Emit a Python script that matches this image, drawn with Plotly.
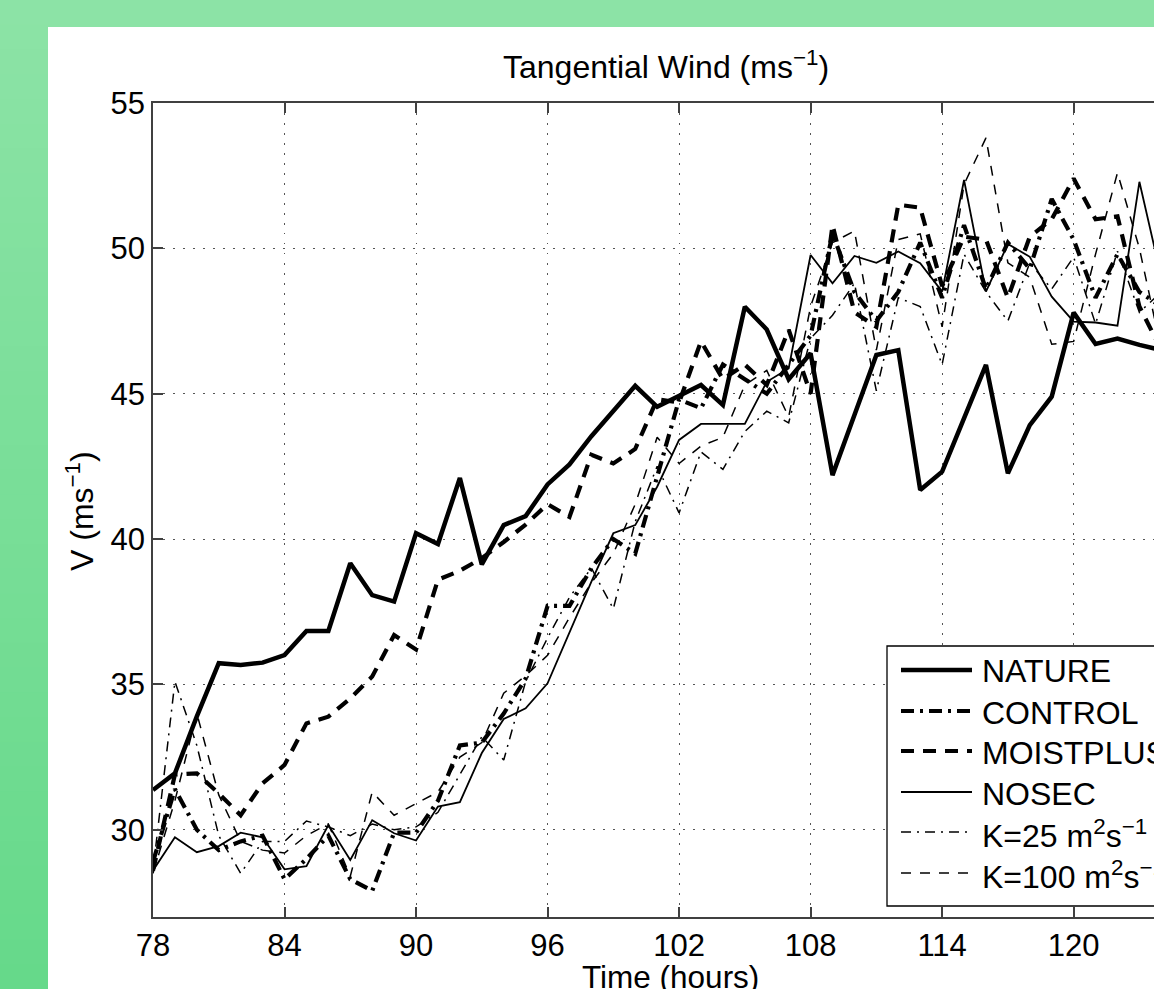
import plotly.graph_objects as go

HOURS = list(range(78, 125))

NATURE = [31.37, 31.94, 33.9, 35.73, 35.67, 35.75, 36.01, 36.84, 36.84, 39.17,
          38.07, 37.85, 40.2, 39.83, 42.1, 39.13, 40.48, 40.79, 41.88, 42.57,
          43.54, 44.38, 45.27, 44.55, 44.92, 45.3, 44.61, 47.99, 47.21, 45.5,
          46.39, 42.2, 44.27, 46.33, 46.5, 41.69, 42.32, 44.15, 45.99, 42.26,
          43.92, 44.9, 47.79, 46.71, 46.9, 46.68, 46.5]

CONTROL = [28.9, 31.4, 30.0, 29.3, 29.6, 29.8, 28.3, 29.0, 29.8, 28.3,
           27.9, 29.9, 29.9, 31.0, 32.9, 33.0, 34.0, 35.2, 37.7, 37.7,
           39.0, 40.0, 39.5, 42.1, 44.8, 44.5, 46.0, 45.5, 45.0, 46.0,
           47.0, 50.5, 48.5, 47.5, 48.5, 50.2, 48.3, 50.8, 48.6, 50.2,
           49.3, 51.7, 50.3, 48.3, 49.8, 48.5, 48.0]

MOISTPLUS = [28.6, 31.9, 31.94, 31.25, 30.5, 31.6, 32.23, 33.66, 33.89, 34.52,
             35.27, 36.7, 36.2, 38.6, 38.91, 39.34, 39.9, 40.5, 41.2, 40.76,
             42.9, 42.6, 43.1, 44.81, 44.7, 46.8, 45.5, 46.0, 45.3, 47.2,
             45.0, 50.8, 47.8, 47.3, 51.5, 51.4, 48.7, 50.4, 50.3, 48.3,
             50.4, 51.0, 52.4, 51.0, 51.1, 48.0, 46.5]

NOSEC = [28.6, 29.74, 29.23, 29.44, 29.9, 29.74, 28.64, 28.75, 30.16, 28.96,
         30.33, 29.88, 29.63, 30.8, 30.95, 32.64, 33.81, 34.18, 35.04, 36.82,
         38.54, 40.2, 40.48, 41.8, 43.41, 43.96, 43.96, 43.96, 45.41, 45.87,
         49.77, 48.8, 49.74, 49.5, 49.89, 49.49, 48.51, 52.35, 48.51, 50.15,
         49.71, 48.34, 47.48, 47.45, 47.34, 52.29, 49.0]

K25 = [28.6, 35.1, 32.9, 29.8, 28.5, 29.6, 29.6, 30.3, 30.1, 29.8,
       30.2, 30.0, 30.1, 30.6, 31.9, 33.2, 32.4, 35.1, 36.6, 38.0,
       39.0, 37.6, 40.6, 42.5, 40.9, 43.0, 42.4, 43.7, 44.4, 44.0,
       46.9, 47.7, 48.8, 45.1, 48.3, 48.0, 46.0, 49.8, 48.5, 47.5,
       49.5, 48.6, 49.7, 47.4, 49.9, 47.8, 48.5]

K100 = [28.5, 31.0, 34.0, 31.2, 29.6, 29.3, 29.2, 29.8, 30.2, 28.4,
        31.3, 30.5, 30.9, 31.3, 32.5, 33.0, 34.7, 35.3, 36.0, 37.3,
        38.5, 39.5, 41.2, 43.5, 42.6, 43.2, 43.5, 45.3, 45.8, 44.2,
        48.0, 50.2, 50.6, 46.5, 50.3, 50.5, 47.3, 52.2, 53.8, 49.5,
        49.0, 46.7, 46.8, 49.8, 52.6, 50.0, 46.5]

SERIES_NAMES = ["NATURE", "CONTROL", "MOISTPLUS", "NOSEC",
                "K=25 m<sup>2</sup>s<sup>\u22121</sup>",
                "K=100 m<sup>2</sup>s<sup>\u22121</sup>"]
SERIES_DATA = [NATURE, CONTROL, MOISTPLUS, NOSEC, K25, K100]

X_TICKS = [78, 84, 90, 96, 102, 108, 114, 120]
Y_TICKS = [30, 35, 40, 45, 50, 55]

# styles
STYLES = [
    dict(width=4.5, dash="solid"),
    dict(width=4.2, dash="13px,6px,3px,6px"),
    dict(width=4.2, dash="13px,9px"),
    dict(width=1.8, dash="solid"),
    dict(width=1.5, dash="10px,6px,2px,6px"),
    dict(width=1.5, dash="10px,9px"),
]

W, H = 1154, 989
PL, PT, PW, PH = 153, 103, 1001, 814
PX_PER_H = 21.92
FONT = "Liberation Sans, Arial, Helvetica, sans-serif"
FS_TICK = 31
FS_TEXT = 32


def px(x):
    return (x - PL) / PW


def py(y):
    return (PT + PH - y) / PH


fig = go.Figure()
for name, data, st in zip(SERIES_NAMES, SERIES_DATA, STYLES):
    fig.add_trace(go.Scatter(x=HOURS, y=data, mode="lines", name=name,
                             line=dict(color="black", width=st["width"], dash=st["dash"]),
                             showlegend=False, hoverinfo="skip"))

shapes = []
# green gradient background strips
top_c = (140, 227, 166)
bot_c = (102, 217, 138)
N = 40
for i in range(N):
    y0 = i * H / N
    y1 = (i + 1) * H / N + 1
    t = (i + 0.5) / N
    c = tuple(int(round(top_c[k] + (bot_c[k] - top_c[k]) * t)) for k in range(3))
    shapes.append(dict(type="rect", xref="paper", yref="paper",
                       x0=px(0), x1=px(48), y0=py(y1), y1=py(y0),
                       fillcolor="rgb(%d,%d,%d)" % c, line=dict(width=0), layer="below"))
shapes.append(dict(type="rect", xref="paper", yref="paper",
                   x0=px(48), x1=px(W + 5), y0=py(0), y1=py(27),
                   fillcolor="rgb(%d,%d,%d)" % top_c, line=dict(width=0), layer="below"))
shapes.append(dict(type="rect", xref="paper", yref="paper",
                   x0=px(48), x1=px(W + 5), y0=py(H + 5), y1=py(27),
                   fillcolor="white", line=dict(width=0), layer="below"))

# legend box
shapes.append(dict(type="rect", xref="paper", yref="paper",
                   x0=px(887), x1=px(W + 20), y0=py(906), y1=py(646),
                   fillcolor="white", line=dict(color="black", width=1.3), layer="above"))
row_line_y = [670, 711, 751, 792, 832, 873]
row_text_y = [671, 713, 753, 794, 834, 875]
annotations = []
for name, st, ly, ty in zip(SERIES_NAMES, STYLES, row_line_y, row_text_y):
    shapes.append(dict(type="line", xref="paper", yref="paper",
                       x0=px(901), x1=px(972), y0=py(ly), y1=py(ly),
                       line=dict(color="black", width=st["width"], dash=st["dash"]),
                       layer="above"))
    annotations.append(dict(text=name, xref="paper", yref="paper",
                            x=px(980), y=py(ty), xanchor="left", yanchor="middle",
                            showarrow=False, font=dict(family=FONT, size=FS_TEXT, color="black")))

annotations.append(dict(text="Tangential Wind (ms<sup>\u22121</sup>)", xref="paper", yref="paper",
                        x=px(666), y=py(65), xanchor="center", yanchor="middle",
                        showarrow=False, font=dict(family=FONT, size=FS_TEXT, color="black")))
annotations.append(dict(text="Time (hours)", xref="paper", yref="paper",
                        x=px(670), y=py(977), xanchor="center", yanchor="middle",
                        showarrow=False, font=dict(family=FONT, size=FS_TEXT - 0.5, color="black")))
annotations.append(dict(text="V (ms<sup>\u22121</sup>)", xref="paper", yref="paper",
                        x=px(80), y=py(511), xanchor="center", yanchor="middle",
                        textangle=-90, showarrow=False,
                        font=dict(family=FONT, size=FS_TEXT, color="black")))

axis_common = dict(showline=True, linecolor="#404040", linewidth=1.6,
                   ticks="inside", ticklen=10, tickwidth=1.5, tickcolor="#404040",
                   showgrid=True, gridcolor="#555555", gridwidth=1.2, griddash="1.5px,8.5px",
                   zeroline=False, tickfont=dict(family=FONT, size=FS_TICK, color="black"))

fig.update_layout(
    width=W, height=H,
    margin=dict(l=PL, r=W - PL - PW, t=PT, b=H - PT - PH, autoexpand=False),
    paper_bgcolor="white", plot_bgcolor="white",
    xaxis=dict(range=[78, 78 + PW / PX_PER_H], tickvals=X_TICKS, mirror="ticks",
               ticklabelstandoff=0, **axis_common),
    yaxis=dict(range=[27, 55], tickvals=Y_TICKS, mirror=False,
               ticklabelstandoff=0, **axis_common),
    shapes=shapes, annotations=annotations,
    showlegend=False,
)

fig.write_html("out.html", config={"displayModeBar": False},
               post_script="document.body.style.margin='0px';document.body.style.overflow='hidden';")
